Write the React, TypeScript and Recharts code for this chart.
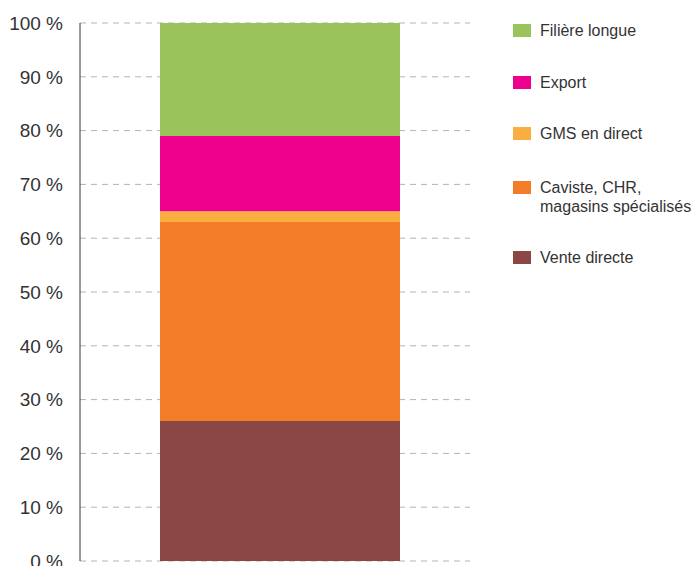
import { BarChart, Bar, XAxis, YAxis, CartesianGrid } from 'recharts';

// Répartition des ventes (%) - single stacked column
const categories = ['Total'];
const venteDirecte = [26];
const caviste = [37];
const gmsDirect = [2];
const exportVal = [14];
const filiereLongue = [21];
const yTicks = [0, 10, 20, 30, 40, 50, 60, 70, 80, 90, 100];

const series = [
  { key: 'vente', name: 'Vente directe', color: '#8b4744', values: venteDirecte },
  { key: 'caviste', name: 'Caviste, CHR,\nmagasins spécialisés', color: '#f37c29', values: caviste },
  { key: 'gms', name: 'GMS en direct', color: '#fbae40', values: gmsDirect },
  { key: 'export', name: 'Export', color: '#ec008c', values: exportVal },
  { key: 'filiere', name: 'Filière longue', color: '#9ac45b', values: filiereLongue },
];

const data = categories.map((c, i) => {
  const row: Record<string, string | number> = { cat: c };
  series.forEach((s) => (row[s.key] = s.values[i]));
  return row;
});

const legendTops = [24, 76, 127, 181, 251];
const font = '"Liberation Sans", Arial, sans-serif';

function LegendBox() {
  const items = [...series].reverse();
  return (
    <div style={{ position: 'absolute', left: 513, top: 0 }}>
      {items.map((s, i) => (
        <div key={s.key} style={{ position: 'absolute', left: 0, top: legendTops[i], display: 'flex' }}>
          <div style={{ width: 18, height: 13, background: s.color, flex: 'none' }} />
          <div
            style={{
              marginLeft: 9,
              marginTop: -3,
              fontSize: 16,
              lineHeight: '19px',
              color: '#333',
              whiteSpace: 'pre',
              fontFamily: font,
            }}
          >
            {s.name}
          </div>
        </div>
      ))}
    </div>
  );
}

export default function App() {
  return (
    <div style={{ position: 'absolute', left: 0, top: 0, width: 699, height: 566, background: '#fff', overflow: 'hidden' }}>
      <BarChart
        width={699}
        height={566}
        data={data}
        margin={{ top: 23, right: 229, bottom: 5, left: 0 }}
        barSize={240}
      >
        <CartesianGrid vertical={false} stroke="#b3b3b3" strokeDasharray="6 5" />
        <XAxis
          dataKey="cat"
          tick={false}
          tickLine={false}
          height={0}
          axisLine={{ stroke: '#666' }}
          padding={{ left: 10, right: 0 }}
        />
        <YAxis
          width={80}
          domain={[0, 100]}
          ticks={yTicks}
          interval={0}
          tickFormatter={(v) => `${v} %`}
          tickLine={false}
          tickSize={0}
          tickMargin={17}
          axisLine={{ stroke: '#333' }}
          tick={{ fill: '#333', fontSize: 19, fontFamily: font }}
        />
        {series.map((s) => (
          <Bar key={s.key} dataKey={s.key} name={s.name} stackId="a" fill={s.color} isAnimationActive={false} />
        ))}
      </BarChart>
      <LegendBox />
    </div>
  );
}
